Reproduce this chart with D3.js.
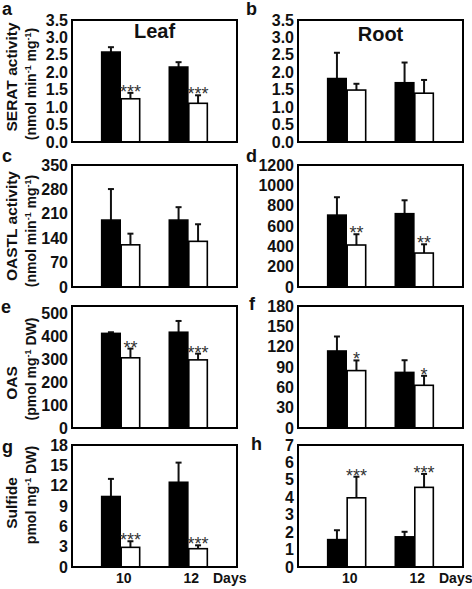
<!DOCTYPE html>
<html>
<head>
<meta charset="utf-8">
<script src="https://cdn.jsdelivr.net/npm/d3@7"></script>
<style>
  html, body { margin: 0; padding: 0; background: #fff; }
  svg { display: block; font-family: "Liberation Sans", Arial, sans-serif; }
</style>
</head>
<body>
<svg id="chart" width="472" height="589"></svg>
<script>
// ---------- DATA ----------
const days = ["10", "12"];
const treatments = ["control", "treated"];
const panelLetters = ["a", "b", "c", "d", "e", "f", "g", "h"];

// black bars (mean) and upper error (SD) for each panel, days 10 and 12
const blackMean = [[2.58, 2.15], [1.82, 1.70], [192, 192], [707, 721], [411, 416], [113.6, 82], [10.4, 12.5], [1.57, 1.73]];
const blackErr  = [[0.14, 0.14], [0.74, 0.58], [89, 37],   [176, 132], [5, 49],    [21.4, 18],   [2.6, 2.9],   [0.54, 0.29]];
// white bars (mean) and upper error
const whiteMean = [[1.24, 1.11], [1.49, 1.40], [121, 131], [413, 334], [305, 296], [84.7, 63],   [2.9, 2.7],   [3.97, 4.57]];
const whiteErr  = [[0.17, 0.23], [0.18, 0.38], [32, 49],   [106, 86],  [40, 27],   [15, 14],     [0.9, 0.5],   [1.21, 0.77]];
// significance marks over the white bars
const stars = [["***", "***"], ["", ""], ["", ""], ["**", "**"], ["**", "***"], ["*", "*"], ["***", "***"], ["***", "***"]];

// y axes
const yMax = [3.5, 3.5, 350, 1200, 530, 180, 18, 7];
const yTicks = [
  [0, 0.5, 1, 1.5, 2, 2.5, 3, 3.5],
  [0, 0.5, 1, 1.5, 2, 2.5, 3, 3.5],
  [0, 70, 140, 210, 280, 350],
  [0, 200, 400, 600, 800, 1000, 1200],
  [0, 100, 200, 300, 400, 500],
  [0, 30, 60, 90, 120, 150, 180],
  [0, 3, 6, 9, 12, 15, 18],
  [0, 1, 2, 3, 4, 5, 6, 7]
];
const yTickFormat = [".1f", ".1f", "d", "d", "d", "d", "d", "d"];

const columnTitles = ["Leaf", "Root"];
const rowLabel1 = ["SERAT activity", "OASTL activity", "OAS", "Sulfide"];
const rowLabel2 = ["(nmol min^-1 mg^-1)", "(nmol min^-1 mg^-1)", "(pmol mg^-1 DW)", "pmol mg^-1 DW)"];
const xAxisTitle = "Days";

// ---------- LAYOUT ----------
const colX = [72, 298];
const rowY = [20, 165, 306, 445];
const pw = 165, ph = 122;
const label1Y = [77, 226, 383, 503];
const label2Y = [84, 231, 369, 495];

const svg = d3.select("#chart");
const ink = "#111";

const x = d3.scalePoint().domain(days).range([0, pw]).padding(0.72);
const sub = d3.scaleBand().domain(treatments).range([-19, 19]).paddingInner(0.05);

panelLetters.forEach((letter, i) => {
  const col = i % 2, row = Math.floor(i / 2);
  const g = svg.append("g").attr("transform", `translate(${colX[col]},${rowY[row]})`);
  const y = d3.scaleLinear().domain([0, yMax[i]]).range([ph, 0]);

  // y tick labels
  const yAxis = d3.axisLeft(y).tickValues(yTicks[i]).tickFormat(d3.format(yTickFormat[i])).tickSize(0).tickPadding(4);
  const ya = g.append("g").call(yAxis);
  ya.select(".domain").remove();
  ya.selectAll("text").attr("font-size", 16).attr("font-weight", "bold").attr("fill", ink)
    .attr("font-family", "Liberation Sans, Arial, sans-serif");

  // bars
  days.forEach((d, j) => {
    const bars = [
      { t: "control", v: blackMean[i][j], e: blackErr[i][j] },
      { t: "treated", v: whiteMean[i][j], e: whiteErr[i][j] }
    ];
    bars.forEach(b => {
      const bx = x(d) + sub(b.t);
      const bw = sub.bandwidth();
      const cx = bx + bw / 2;
      // error bar
      g.append("line").attr("x1", cx).attr("x2", cx).attr("y1", y(b.v)).attr("y2", y(b.v + b.e))
        .attr("stroke", ink).attr("stroke-width", 2);
      g.append("line").attr("x1", cx - 3).attr("x2", cx + 3).attr("y1", y(b.v + b.e)).attr("y2", y(b.v + b.e))
        .attr("stroke", ink).attr("stroke-width", 2);
      g.append("rect").attr("x", bx).attr("y", y(b.v)).attr("width", bw).attr("height", ph - y(b.v))
        .attr("fill", b.t === "control" ? "#000" : "#fff")
        .attr("stroke", "#000").attr("stroke-width", 1.6);
    });
    const s = stars[i][j];
    if (s) {
      const cx = x(d) + sub("treated") + sub.bandwidth() / 2;
      g.append("text").attr("x", cx).attr("y", y(whiteMean[i][j] + whiteErr[i][j]) + 5)
        .attr("text-anchor", "middle").attr("font-size", 18).attr("fill", "#333").text(s);
    }
  });

  // frame
  g.append("rect").attr("x", 0).attr("y", 0).attr("width", pw).attr("height", ph)
    .attr("fill", "none").attr("stroke", "#000").attr("stroke-width", 2);

  // panel letter
  const letterPos = [[2, 15], [246, 15], [2, 162], [246, 162], [1, 313], [249, 310], [2, 453], [251, 450]];
  svg.append("text").attr("x", letterPos[i][0]).attr("y", letterPos[i][1])
    .attr("font-size", 18).attr("font-weight", "bold").attr("fill", ink).text(letter);

  // column titles
  if (row === 0) {
    g.append("text").attr("x", pw / 2).attr("y", col === 0 ? 18 : 21).attr("text-anchor", "middle")
      .attr("font-size", 20).attr("font-weight", "bold").attr("fill", ink).text(columnTitles[col]);
  }

  // x axis labels on bottom row
  if (row === 3) {
    days.forEach(d => {
      g.append("text").attr("x", x(d) + 3).attr("y", ph + 15.5).attr("text-anchor", "middle")
        .attr("font-size", 14).attr("font-weight", "bold").attr("fill", ink).text(d);
    });
    g.append("text").attr("x", 141).attr("y", ph + 15.5)
      .attr("font-size", 14).attr("font-weight", "bold").attr("fill", ink).text(xAxisTitle);
  }
});

// row labels (rotated)
function addRich(sel, str, supSize) {
  const parts = str.split(/(\^-?\d)/);
  let raised = false;
  parts.forEach(p => {
    if (!p) return;
    if (p[0] === "^") {
      sel.append("tspan").attr("dy", -5).attr("font-size", supSize).text(p.slice(1));
      raised = true;
    } else {
      const t = sel.append("tspan").text(p);
      if (raised) { t.attr("dy", 5); raised = false; }
    }
  });
}
rowLabel1.forEach((txt, r) => {
  svg.append("text").attr("transform", `translate(17,${label1Y[r]}) rotate(-90)`)
    .attr("text-anchor", "middle").attr("font-size", 15.5).attr("font-weight", "bold").attr("fill", ink).text(txt);
  const t2 = svg.append("text").attr("transform", `translate(36,${label2Y[r]}) rotate(-90)`)
    .attr("text-anchor", "middle").attr("font-size", 14).attr("font-weight", "bold").attr("fill", ink);
  addRich(t2, rowLabel2[r], 9);
});
</script>
</body>
</html>
